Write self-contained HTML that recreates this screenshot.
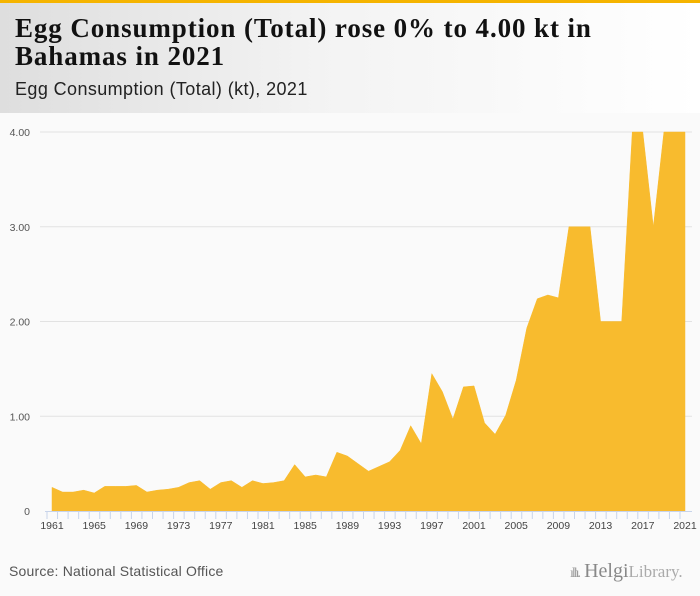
<!DOCTYPE html>
<html><head><meta charset="utf-8"><style>
body{margin:0;width:700px;height:596px;background:#fafafa;font-family:"Liberation Sans",sans-serif;position:relative;overflow:hidden}
#topbar{position:absolute;left:0;top:0;width:700px;height:3px;background:#f5b400}
#header{position:absolute;left:0;top:3px;width:700px;height:110px;background:linear-gradient(90deg,#dedede 0%,#f3f3f3 45%,#ffffff 100%)}
#title{position:absolute;left:15px;top:14px;font-family:"Liberation Serif",serif;font-weight:bold;font-size:27px;line-height:28px;color:#111;letter-spacing:0.9px}
#subtitle{position:absolute;left:15px;top:79px;font-size:18px;color:#222;letter-spacing:0.4px}
#source{position:absolute;left:9px;top:563px;font-size:14px;color:#555;letter-spacing:0.2px}
#logo{position:absolute;left:570px;top:560px;font-family:"Liberation Serif",serif;font-size:20px;color:#999}
</style></head><body>
<div id="topbar"></div>
<div id="header"></div>
<div id="title">Egg Consumption (Total) rose 0% to 4.00 kt in<br>Bahamas in 2021</div>
<div id="subtitle">Egg Consumption (Total) (kt), 2021</div>
<svg id="chart" width="700" height="596" style="position:absolute;left:0;top:0"></svg>
<div id="source">Source: National Statistical Office</div>
<div id="logo"><span style="font-size:14px;letter-spacing:-2px">ıllı.</span> <b style="font-weight:normal;color:#888">Helgi</b><span style="font-size:17px;color:#aaa">Library.</span></div>
<script>
const years=[];for(let y=1961;y<=2021;y++)years.push(y);
const values=[0.25,0.20,0.20,0.22,0.19,0.26,0.26,0.26,0.27,0.20,0.22,0.23,0.25,0.30,0.32,0.23,0.30,0.32,0.25,0.32,0.29,0.30,0.32,0.49,0.36,0.38,0.36,0.62,0.58,0.50,0.42,0.47,0.52,0.64,0.90,0.71,1.45,1.26,0.97,1.31,1.32,0.93,0.81,1.01,1.38,1.93,2.24,2.28,2.25,3.0,3.0,3.0,2.0,2.0,2.0,4.0,4.0,3.0,4.0,4.0,4.0];
const yTicks=[0,1,2,3,4];
const yTickLabels=["0","1.00","2.00","3.00","4.00"];
const xLabelYears=[1961,1965,1969,1973,1977,1981,1985,1989,1993,1997,2001,2005,2009,2013,2017,2021];
const svg=document.getElementById('chart');const NS='http://www.w3.org/2000/svg';
const x0=52,x1=685,yb=511,yt=132;
const X=y=>x0+(y-1961)*(x1-x0)/60;
const Y=v=>yb-v*(yb-yt)/4;
function mk(t,a){const e=document.createElementNS(NS,t);for(const k in a)e.setAttribute(k,a[k]);svg.appendChild(e);return e;}
yTicks.forEach((t,i)=>{
 if(t>0){const g=mk('line',{x1:40,x2:692,y1:Y(t),y2:Y(t),stroke:'#e2e2e2','stroke-width':1});
 
 }
 const l=mk('text',{x:30,y:Y(t)+4,'text-anchor':'end','font-size':10.5,fill:'#555','font-family':'Liberation Sans, sans-serif'});
 l.textContent=yTickLabels[i];
 
 
});
let d='M'+X(years[0])+','+yb;
years.forEach((y,i)=>{d+=' L'+X(y)+','+Y(values[i]);});
d+=' L'+X(years[years.length-1])+','+yb+' Z';
const area=mk('path',{d:d,fill:'#f8bb2e',stroke:'#f8bb2e','stroke-width':0.5});


const ax=mk('line',{x1:45,x2:692,y1:yb+0.5,y2:yb+0.5,stroke:'#c8d4ea','stroke-width':1});


years.forEach(y=>{const t=mk('line',{x1:X(y)-5,x2:X(y)-5,y1:yb,y2:yb+8,stroke:'#c8d4ea','stroke-width':1});
 
 });
xLabelYears.forEach(y=>{const l=mk('text',{x:X(y),y:529,'text-anchor':'middle','font-size':10.5,fill:'#444','font-family':'Liberation Sans, sans-serif'});
 l.textContent=y;
 
 });
</script>
</body></html>
